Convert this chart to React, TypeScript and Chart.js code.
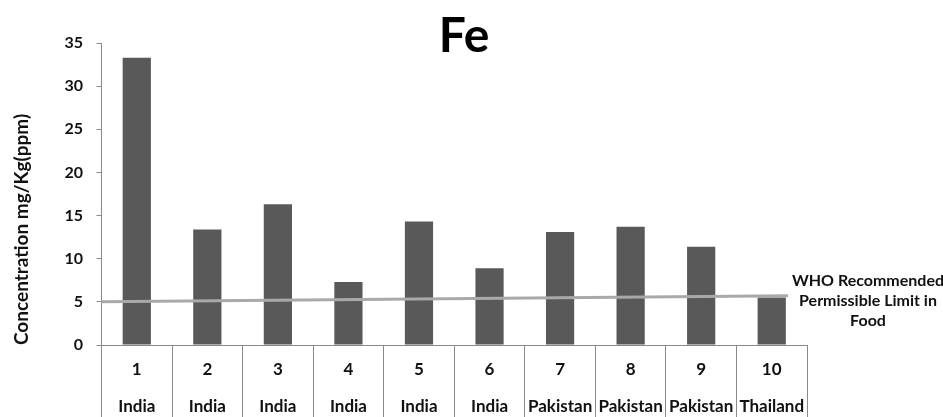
import React, { useEffect, useRef } from "react";
import { Chart, registerables } from "chart.js";

Chart.register(...registerables);

// ---- data ----
const chartTitle = "Fe";
const yAxisTitle = "Concentration mg/Kg(ppm)";
const sampleNumbers = ["1", "2", "3", "4", "5", "6", "7", "8", "9", "10"];
const countries = ["India", "India", "India", "India", "India", "India", "Pakistan", "Pakistan", "Pakistan", "Thailand"];
const feConcentration = [33.3, 13.4, 16.3, 7.3, 14.3, 8.9, 13.1, 13.7, 11.4, 5.5];
const whoLimitValues = [5.0, 5.7];
const whoLabelLines = ["WHO Recommended", "Permissible Limit in", "Food"];
const yTicks = [0, 5, 10, 15, 20, 25, 30, 35];

const FONT = "Lato";
const AXIS_GREY = "#898989";
const TEXT = "#111111";

const whoPlugin = {
  id: "whoLimit",
  afterDatasetsDraw(chart: any) {
    const { ctx } = chart;
    const xs = chart.scales.x;
    const ys = chart.scales.y;
    const x1 = xs.getPixelForValue(-0.5);
    const x2 = xs.getPixelForValue(9.23);
    const y1 = ys.getPixelForValue(whoLimitValues[0]);
    const y2 = ys.getPixelForValue(whoLimitValues[1]);
    ctx.save();
    ctx.strokeStyle = "#A9A9A9";
    ctx.lineWidth = 3;
    ctx.beginPath();
    ctx.moveTo(x1, y1);
    ctx.lineTo(x2, y2);
    ctx.stroke();
    ctx.restore();
  },
  afterDraw(chart: any) {
    const { ctx } = chart;
    const ys = chart.scales.y;
    const yEnd = ys.getPixelForValue(whoLimitValues[1]);
    const cx = chart.chartArea.right + 61;
    ctx.save();
    ctx.fillStyle = TEXT;
    ctx.font = `bold 16px ${FONT}`;
    ctx.textAlign = "center";
    ctx.textBaseline = "middle";
    whoLabelLines.forEach((line, i) => {
      ctx.fillText(line, cx, yEnd - 14.5 + i * 20);
    });
    ctx.restore();
  },
};

export default function App() {
  const canvasRef = useRef<HTMLCanvasElement | null>(null);

  useEffect(() => {
    if (!canvasRef.current) return;
    const labels = sampleNumbers.map((n, i) => [n, countries[i]]);
    const chart = new Chart(canvasRef.current, {
      type: "bar",
      data: {
        labels,
        datasets: [
          {
            label: chartTitle,
            data: feConcentration,
            backgroundColor: "#595959",
            borderWidth: 0,
            barPercentage: 0.4,
            categoryPercentage: 1,
            yAxisID: "y",
          },
        ],
      },
      options: {
        animation: false,
        responsive: true,
        maintainAspectRatio: false,
        layout: { padding: { left: 0, right: 15, top: 0, bottom: 0 } },
        plugins: {
          legend: { display: false },
          tooltip: { enabled: false },
          title: {
            display: true,
            text: chartTitle,
            color: "#000",
            font: { family: FONT, size: 48, weight: "bold", lineHeight: 0.8 },
            padding: { top: 17, bottom: -12.4 },
          },
        },
        scales: {
          x: {
            afterFit: (s: any) => {
              s.height = 80;
            },
            grid: {
              display: true,
              drawOnChartArea: false,
              drawTicks: true,
              tickLength: 73,
              color: AXIS_GREY,
              offset: true,
            },
            border: { display: true, color: AXIS_GREY, width: 1 },
            ticks: {
              autoSkip: false,
              maxRotation: 0,
              minRotation: 0,
              padding: -67,
              color: TEXT,
              font: { family: FONT, size: 17, weight: "bold", lineHeight: 37 / 17 },
            },
          },
          y: {
            min: 0,
            max: 35,
            afterBuildTicks: (s: any) => {
              s.ticks = yTicks.map((v) => ({ value: v }));
            },
            afterFit: (s: any) => {
              s.width = 101.5;
            },
            grid: { drawOnChartArea: false, drawTicks: true, tickLength: 5, color: AXIS_GREY },
            border: { display: true, color: AXIS_GREY, width: 1 },
            ticks: {
              padding: 13.5,
              color: TEXT,
              font: { family: FONT, size: 16, weight: "bold" },
            },
            title: {
              display: true,
              text: yAxisTitle,
              align: "start",
              color: TEXT,
              font: { family: FONT, size: 19, weight: "bold", lineHeight: 1.2 },
              padding: { top: 10.6, bottom: 0 },
            },
          },
          y2: {
            position: "right",
            display: true,
            grid: { display: false },
            border: { display: false },
            ticks: { display: false },
            afterFit: (s: any) => {
              s.width = 121;
            },
          },
        },
      },
      plugins: [whoPlugin],
    } as any);
    return () => chart.destroy();
  }, []);

  return (
    <div style={{ position: "fixed", left: 0, top: 0, width: 943, height: 425, background: "#fff" }}>
      <canvas ref={canvasRef} />
    </div>
  );
}
